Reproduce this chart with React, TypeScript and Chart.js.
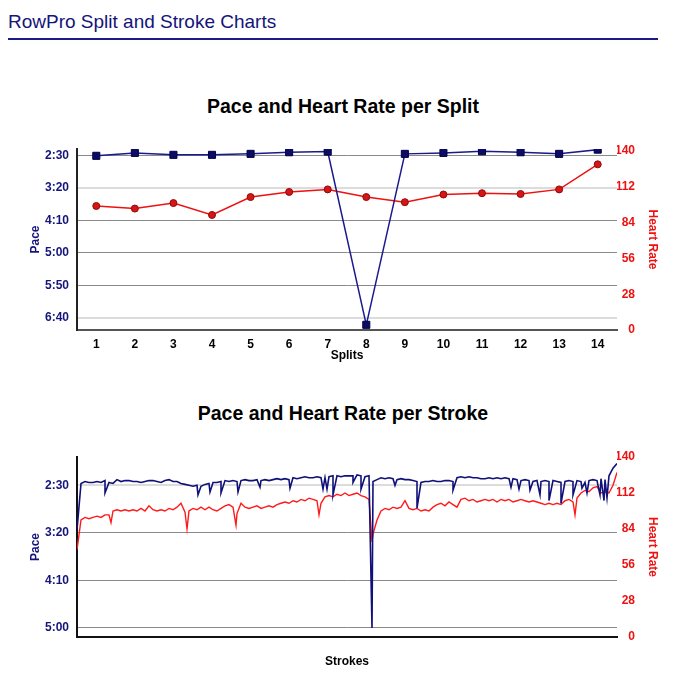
import React, { useEffect, useRef } from 'react';
import { Chart, registerables } from 'chart.js';

Chart.register(...registerables);

// ---------- DATA ----------
const splitLabels = ['1', '2', '3', '4', '5', '6', '7', '8', '9', '10', '11', '12', '13', '14'];
// pace per split in seconds per 500m
const splitPace = [150.5, 146, 149, 149, 147.5, 145, 144, 411, 147.5, 146, 143.5, 145, 147.5, 141];
// heart rate per split
const splitHR = [97, 95, 99.3, 90, 104, 108, 110, 104, 100, 106, 107, 106.4, 110, 129.6];

const splitPaceTicks = [150, 200, 250, 300, 350, 400];
const hrTicks = [0, 28, 56, 84, 112, 140];
const strokePaceTicks = [150, 200, 250, 300];

// per-stroke data: base samples every `strokeStep` strokes
const strokeStep = 4;
const strokePaceBase = [
  197, 148, 146, 147, 147, 146, 147, 145, 147, 148,
  144, 146, 145, 145, 146, 146, 147, 146, 145, 145,
  146, 147, 145, 144, 146, 146, 148, 149, 150, 151,
  150, 151, 149, 148, 147,
  147, 146, 145, 146, 145, 146, 145, 144, 145, 145,
  144, 145, 144, 145, 144, 143, 144, 143, 144, 142,
  143, 142, 141, 142, 142, 141, 142, 142, 141, 140,
  140, 141, 140, 140,
  140, 139, 140, 141, 140, 146, 144, 142, 143, 142,
  143, 144, 143, 144, 144, 145, 146, 147, 146, 146,
  145, 146, 146, 145, 145, 146, 142, 141, 142, 141,
  142, 142, 143, 143,
  142, 143, 142, 143, 142, 143, 143, 144, 145, 144,
  145, 146, 145, 146, 145, 146, 145, 146, 147, 146,
  145, 146, 145, 146, 147, 145, 144, 145, 143, 144,
  140, 132, 127,
];
const strokeHRBase = [
  68, 91, 93, 92, 93, 94, 93, 95, 95, 98,
  99, 98, 99, 98, 99, 98, 100, 98, 102, 99,
  98, 99, 98, 100, 99, 101, 104, 97, 98, 100,
  99, 101, 99, 101, 99,
  98, 100, 102, 103, 101, 96, 104, 101, 100, 101,
  102, 100, 101, 102, 101, 103, 104, 105, 104, 106,
  105, 107, 106, 108, 107, 106, 104, 109, 110, 109,
  111, 110, 112, 110,
  111, 112, 110, 109, 107, 80, 91, 98, 100, 99,
  101, 100, 101, 106, 100, 99, 100, 98, 99, 98,
  101, 103, 104, 102, 105, 103, 101, 107, 108, 106,
  107, 105, 106, 107,
  106, 107, 105, 107, 106, 107, 105, 106, 107, 106,
  105, 106, 105, 104, 103, 104, 103, 104, 103, 106,
  107, 105, 108, 112, 114, 113, 116, 117, 112, 113,
  112, 118, 128,
];
// short slow strokes: [stroke, pace seconds]
const strokePaceSpikes = [
  [28, 158], [121, 160], [133, 157], [144, 158], [161, 157], [183, 152], [213, 153],
  [246, 154], [250, 154], [256, 160], [276, 147], [284, 154], [295, 300], [318, 150],
  [340, 174], [376, 155], [434, 152], [442, 154], [453, 155], [463, 160], [472, 166],
  [484, 169], [496, 160], [505, 153], [510, 158], [523, 160], [527, 166], [530, 163],
];
// heart-rate dips: [stroke, bpm]
const strokeHRDips = [
  [34, 89], [110, 84], [159, 87], [242, 95], [295, 74], [498, 95],
];

// ---------- STYLE ----------
const FONT = "'Liberation Sans', Arial, Helvetica, sans-serif";
const NAVY = '#14147a';
const RED = '#ee1111';

const fmtPace = (v: number) => {
  const m = Math.floor(v / 60);
  const s = Math.round(v - m * 60);
  return `${m}:${String(s).padStart(2, '0')}`;
};

const mergeSeries = (base: number[], extra: number[][]) => {
  const pts = base.map((v, i) => ({ x: i * strokeStep, y: v }));
  extra.forEach(([x, y]) => pts.push({ x, y }));
  pts.sort((a, b) => a.x - b.x);
  return pts;
};

const boldFont = (size: number) => ({ family: FONT, size, weight: 'bold' as const });

function makeGrid(light: number[]) {
  return {
    drawTicks: false,
    color: (ctx: any) => (light.includes(ctx.tick?.value) ? '#dcdcdc' : '#8a8a8a'),
    lineWidth: (ctx: any) => (light.includes(ctx.tick?.value) ? 2 : 1),
  };
}

const RIGHT_PAD = 53;

const leftAxis = (min: number, max: number, ticksArr: number[], light: number[], borderColor: string) => ({
  type: 'linear',
  position: 'left',
  reverse: true,
  min,
  max,
  afterBuildTicks: (s: any) => { s.ticks = ticksArr.map((v) => ({ value: v })); },
  ticks: { color: NAVY, font: boldFont(12), padding: 8, autoSkip: false, callback: (v: any) => fmtPace(Number(v)) },
  grid: makeGrid(light),
  border: { display: true, color: borderColor, width: 2 },
  title: { display: true, text: 'Pace', color: NAVY, font: boldFont(12), padding: { top: 28.8, bottom: 0 } },
  afterFit: (s: any) => { s.width = 77; },
});

// right axis: labels right-aligned at the axis' right edge, title further right
const rightAxis = (max: number) => ({
  type: 'linear',
  position: 'right',
  min: 0,
  max,
  afterBuildTicks: (s: any) => { s.ticks = hrTicks.map((v) => ({ value: v })); },
  ticks: { color: RED, font: boldFont(12), padding: 0, crossAlign: 'far', autoSkip: false },
  grid: { display: false, drawTicks: false },
  border: { display: false },
  title: { display: true, text: 'Heart Rate', color: RED, font: boldFont(12), padding: { top: -24.2, bottom: 0 } },
  afterFit: (s: any) => { s.width = 18; },
});

const titleStyle = (top: number): React.CSSProperties => ({
  position: 'absolute',
  left: 0,
  top,
  width: 686,
  textAlign: 'center',
  fontFamily: FONT,
  fontWeight: 'bold',
  fontSize: 19.5,
  lineHeight: '24px',
  color: '#000',
  whiteSpace: 'nowrap',
});

function SplitChart() {
  const ref = useRef<HTMLCanvasElement>(null);
  useEffect(() => {
    if (!ref.current) return;
    const chart = new Chart(ref.current, {
      type: 'line',
      data: {
        labels: splitLabels,
        datasets: [
          {
            data: splitPace,
            yAxisID: 'pace',
            borderColor: '#1a1a8c',
            borderWidth: 1.5,
            backgroundColor: '#0c0c66',
            pointStyle: 'rect',
            pointRadius: 5,
            pointBorderColor: '#000044',
            pointBorderWidth: 1,
            tension: 0,
          },
          {
            data: splitHR,
            yAxisID: 'hr',
            borderColor: RED,
            borderWidth: 1.5,
            backgroundColor: '#d81414',
            pointStyle: 'circle',
            pointRadius: 3.5,
            pointBorderColor: '#8a0c0c',
            pointBorderWidth: 1,
            tension: 0,
          },
        ],
      },
      options: {
        responsive: false,
        animation: false,
        layout: { padding: { left: 0, right: RIGHT_PAD, top: 69, bottom: 0 } },
        plugins: {
          legend: { display: false },
          tooltip: { enabled: false },
          title: { display: false },
        },
        scales: {
          x: {
            type: 'category',
            offset: true,
            grid: { display: false },
            border: { display: true, color: '#555', width: 2 },
            ticks: { color: '#000', font: boldFont(12), padding: -1, maxRotation: 0, autoSkip: false },
            title: { display: true, text: 'Splits', color: '#000', font: boldFont(12), padding: { top: 0, bottom: 7.5 } },
            afterFit: (s: any) => { s.height = 40; },
          },
          pace: leftAxis(140, 419, splitPaceTicks, [200, 400], '#222'),
          hr: rightAxis(141.6),
        },
      } as any,
    });
    return () => chart.destroy();
  }, []);
  return (
    <>
      <div style={titleStyle(94)}>Pace and Heart Rate per Split</div>
      <canvas ref={ref} width={688} height={290} style={{ position: 'absolute', left: 0, top: 80, width: 688, height: 290 }} />
    </>
  );
}

function StrokeChart() {
  const ref = useRef<HTMLCanvasElement>(null);
  useEffect(() => {
    if (!ref.current) return;
    const chart = new Chart(ref.current, {
      type: 'line',
      data: {
        datasets: [
          {
            data: mergeSeries(strokePaceBase, strokePaceSpikes),
            yAxisID: 'pace',
            borderColor: '#10107a',
            borderWidth: 1.6,
            pointRadius: 0,
            tension: 0,
          },
          {
            data: mergeSeries(strokeHRBase, strokeHRDips),
            yAxisID: 'hr',
            borderColor: '#ff1a1a',
            borderWidth: 1.4,
            pointRadius: 0,
            tension: 0,
          },
        ],
      },
      options: {
        responsive: false,
        animation: false,
        layout: { padding: { left: 0, right: RIGHT_PAD, top: 67, bottom: 0 } },
        plugins: {
          legend: { display: false },
          tooltip: { enabled: false },
          title: { display: false },
        },
        scales: {
          x: {
            type: 'linear',
            min: 0,
            max: 540,
            grid: { display: false },
            border: { display: true, color: '#111', width: 2 },
            ticks: { display: false },
            title: { display: true, text: 'Strokes', color: '#000', font: boldFont(12), padding: { top: 0, bottom: 6.8 } },
            afterFit: (s: any) => { s.height = 39; },
          },
          pace: leftAxis(120.2, 309.5, strokePaceTicks, [150], '#111'),
          hr: rightAxis(140),
        },
      } as any,
    });
    return () => chart.destroy();
  }, []);
  return (
    <>
      <div style={titleStyle(401)}>Pace and Heart Rate per Stroke</div>
      <canvas ref={ref} width={688} height={286} style={{ position: 'absolute', left: 0, top: 390, width: 688, height: 286 }} />
    </>
  );
}

export default function App() {
  return (
    <div style={{ position: 'absolute', left: 0, top: 0, width: 688, height: 676, background: '#fff', overflow: 'hidden' }}>
      <div
        style={{
          position: 'absolute',
          left: 8,
          top: 11,
          fontFamily: FONT,
          fontSize: 19,
          lineHeight: '22px',
          color: NAVY,
          whiteSpace: 'nowrap',
        }}
      >
        RowPro Split and Stroke Charts
      </div>
      <div style={{ position: 'absolute', left: 8, top: 38, width: 650, height: 2, background: '#1a1a8c' }} />
      <SplitChart />
      <StrokeChart />
    </div>
  );
}
